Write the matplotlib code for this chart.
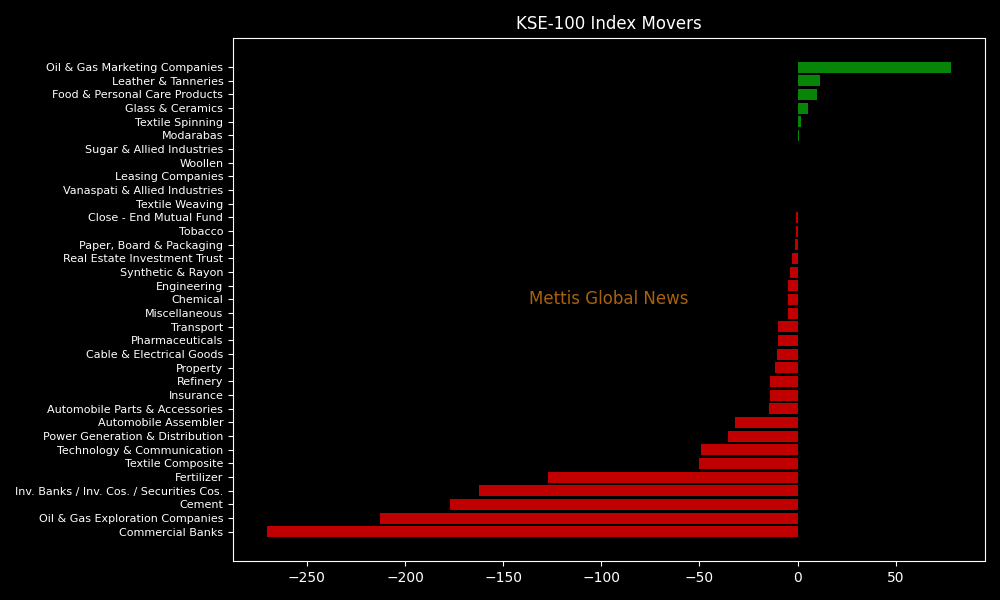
import matplotlib
matplotlib.use("Agg")
import matplotlib.pyplot as plt

plt.style.use("dark_background")

sectors = [
    "Oil & Gas Marketing Companies", "Leather & Tanneries", "Food & Personal Care Products",
    "Glass & Ceramics", "Textile Spinning", "Modarabas", "Sugar & Allied Industries",
    "Woollen", "Leasing Companies", "Vanaspati & Allied Industries", "Textile Weaving",
    "Close - End Mutual Fund", "Tobacco", "Paper, Board & Packaging",
    "Real Estate Investment Trust", "Synthetic & Rayon", "Engineering", "Chemical",
    "Miscellaneous", "Transport", "Pharmaceuticals", "Cable & Electrical Goods",
    "Property", "Refinery", "Insurance", "Automobile Parts & Accessories",
    "Automobile Assembler", "Power Generation & Distribution",
    "Technology & Communication", "Textile Composite", "Fertilizer",
    "Inv. Banks / Inv. Cos. / Securities Cos.", "Cement",
    "Oil & Gas Exploration Companies", "Commercial Banks",
]
points = [
    78.1, 11.7, 9.7, 5.1, 2.0, 1.0, 0.0,
    0.0, 0.0, 0.0, 0.0,
    -1.0, -1.0, -1.5,
    -3.0, -3.6, -4.6, -5.1,
    -5.1, -9.7, -10.2, -10.7,
    -11.7, -13.8, -13.8, -14.3,
    -32.1, -35.2,
    -49.0, -50.0, -127.3,
    -162.4, -177.1,
    -212.7, -270.2,
]

fig, ax = plt.subplots(figsize=(10, 6), dpi=100)
fig.subplots_adjust(left=0.233, right=0.985, top=0.937, bottom=0.065)

colors = ["#088508" if v > 0 else "#c00000" for v in points]
ax.barh(sectors, points, color=colors)
ax.invert_yaxis()
ax.tick_params(axis="y", labelsize=8)
ax.set_title("KSE-100 Index Movers", fontsize=12)
ax.text(0.5, 0.5, "Mettis Global News", transform=ax.transAxes, ha="center",
        va="center", fontsize=12, color="#a8620f")

fig.savefig("out.png", facecolor=fig.get_facecolor())
